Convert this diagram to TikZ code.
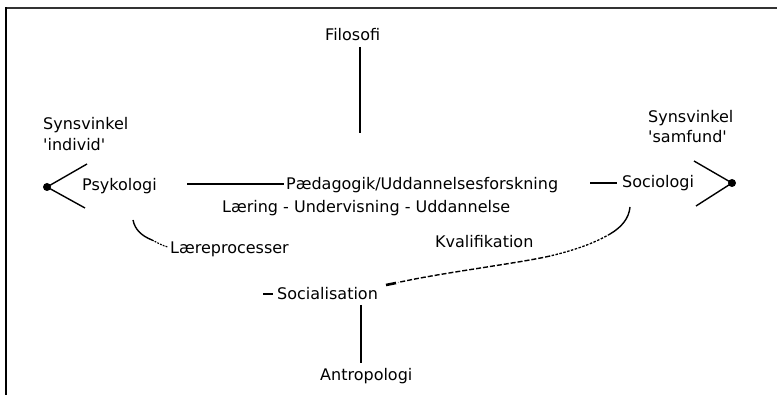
\documentclass[tikz,border=0pt]{standalone}
\usepackage{fontspec}
\setmainfont{DejaVu Sans}
\begin{document}
\begin{tikzpicture}[x=1pt,y=-1pt,
  every node/.style={inner sep=0pt, font=\fontsize{16}{18}\selectfont},
  lbl/.style={anchor=base west},
  conn/.style={line width=1.4pt},
  frame/.style={line width=1.8pt}]
\useasboundingbox (0,0) rectangle (777,395);
% frame
\draw[frame, draw=black!80] (5.1,8) -- (777,8);
\draw[frame] (6,7.1) -- (6,395);
% texts
\node[lbl] (filo) at (325,41) {Filosofi};
\node[lbl] (synL) at (43,130) {Synsvinkel};
\node[lbl] (indL) at (43,151) {\textquotesingle individ\textquotesingle};
\node[lbl] (synR) at (648,123) {Synsvinkel};
\node[lbl] (samR) at (648,143) {\textquotesingle samfund\textquotesingle};
\node[lbl] (psy) at (82,191) {Psykologi};
\node[lbl] (ped) at (286,190) {Pædagogik/Uddannelsesforskning};
\node[lbl] (laer) at (222,213) {Læring - Undervisning - Uddannelse};
\node[lbl] (soc) at (622,188) {Sociologi};
\node[lbl] (lproc) at (170,254) {Læreprocesser};
\node[lbl] (kval) at (435,248) {Kvalifikation};
\node[lbl] (socia) at (277,300) {Socialisation};
\node[lbl] (antro) at (320,381) {Antropologi};
% coordinates
\coordinate (dotL) at (47,187);
\coordinate (dotR) at (732,183);
\coordinate (fa) at (360,47);
\coordinate (fb) at (360,133);
\coordinate (sa) at (361,305);
\coordinate (sb) at (361,363);
\coordinate (pa) at (187,184);
\coordinate (pb) at (284,184);
\coordinate (oa) at (590,183);
\coordinate (ob) at (617,183);
\coordinate (da) at (263,294);
\coordinate (db) at (273,294);
% vertical lines
\draw[conn] (fa) -- (fb);
\draw[conn] (sa) -- (sb);
% horizontal lines
\draw[conn] (pa) -- (pb);
\draw[conn] (oa) -- (ob);
\draw[conn] (da) -- (db);
% viewpoint wedges
\fill (dotL) circle (4);
\draw[conn] (87,164) -- (dotL) -- (85,208);
\fill (dotR) circle (4);
\draw[conn] (694,161) -- (dotR) -- (696,206);
% Psykologi -> Laereprocesser
\draw[conn] (133,220) .. controls (135,230) and (142,236) .. (152,240);
\draw[line width=1.2pt, dash pattern=on 1.8pt off 1.2pt] (152,240) .. controls (158,243) and (163,246) .. (168,247);
% Sociologi -> Socialisation
\draw[conn] (630,207) .. controls (629,218) and (622,227) .. (610,234);
\draw[line width=1.3pt, dash pattern=on 2.5pt off 1.5pt] (610,234) .. controls (598,241) and (580,249) .. (550,256);
\draw[line width=1.4pt, dash pattern=on 5pt off 2pt] (550,256) .. controls (520,263) and (440,273) .. (398,282.5);
\draw[line width=2.6pt] (386,285) -- (396,283);
\end{tikzpicture}
\end{document}
